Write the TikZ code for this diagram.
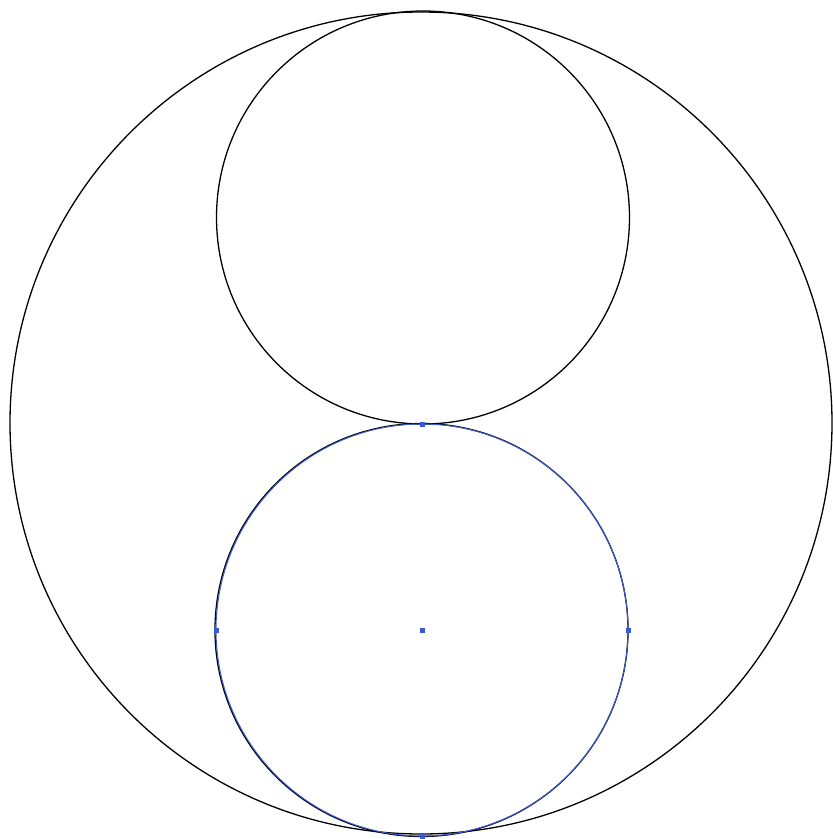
\documentclass[tikz,border=0pt]{standalone}
\begin{document}
\begin{tikzpicture}[x=1pt,y=-1pt,
  ring/.style={draw=black,line width=1.3pt},
  bluering/.style={draw=selblue,line width=1pt},
  anchorpt/.style={fill=selblue,inner sep=0pt,minimum size=5pt,draw=none,rectangle}]
\definecolor{selblue}{RGB}{60,90,210}
\useasboundingbox[fill=white] (0,0) rectangle (833,839);
\coordinate (big) at (421,423);
\coordinate (top) at (423,217.5);
\coordinate (bot) at (422,630);
\draw[ring] (big) circle[radius=411];
\draw[ring] (top) circle[radius=206.5];
\draw[ring] (421.5,630) circle[radius=206.5];
\draw[bluering] (bot) circle[radius=206];
\node[anchorpt] (c) at (bot) {};
\node[anchorpt] (l) at (216,630) {};
\node[anchorpt] (r) at (628,630) {};
\node[anchorpt] (t) at (422,424) {};
\node[anchorpt] (b) at (422,836) {};
\end{tikzpicture}
\end{document}
